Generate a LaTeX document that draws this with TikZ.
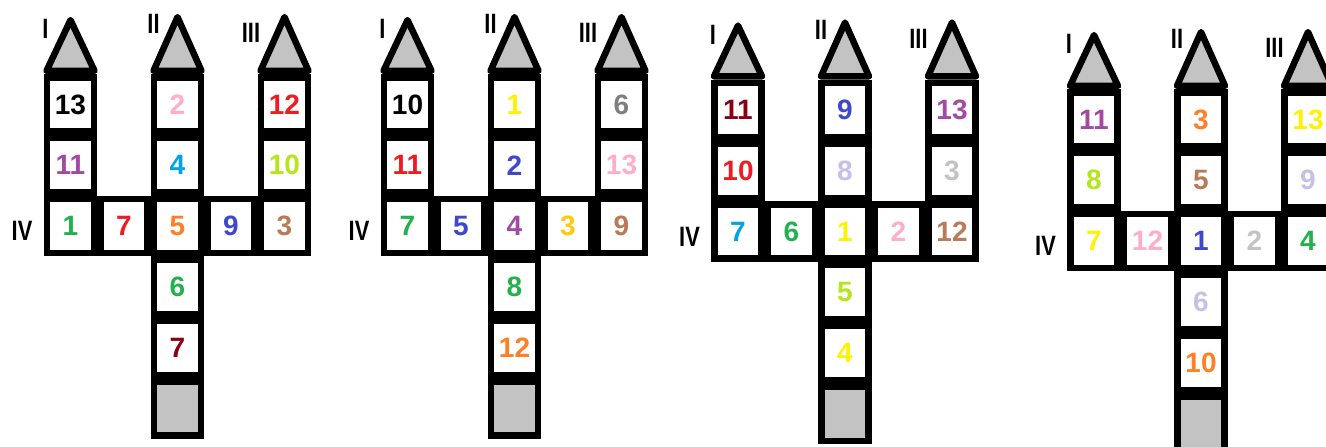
\documentclass[tikz,border=0pt]{standalone}
\usepackage{fontspec}
\setmainfont{Liberation Sans}
\newfontfamily\tagfamily[FakeStretch=0.78]{Liberation Sans}
\usetikzlibrary{positioning}
\definecolor{numBlack}{HTML}{000000}
\definecolor{numDarkRed}{HTML}{880015}
\definecolor{numRed}{HTML}{ED1C24}
\definecolor{numOrange}{HTML}{FF7F27}
\definecolor{numGold}{HTML}{FFC90E}
\definecolor{numYellow}{HTML}{FFF200}
\definecolor{numLime}{HTML}{B5E61D}
\definecolor{numGreen}{HTML}{22B14C}
\definecolor{numTurquoise}{HTML}{00A2E8}
\definecolor{numIndigo}{HTML}{3F48CC}
\definecolor{numPurple}{HTML}{A349A4}
\definecolor{numBrown}{HTML}{B97A57}
\definecolor{numPink}{HTML}{FFAEC9}
\definecolor{numGray}{HTML}{7F7F7F}
\definecolor{numLightGray}{HTML}{C3C3C3}
\definecolor{numLavender}{HTML}{C8BFE7}
\definecolor{fillBlank}{HTML}{C3C3C3}

\begin{document}
\begin{tikzpicture}[
    x=1pt, y=1pt,
    node distance=0pt,
    cell/.style={draw, line width=6.5pt, fill=white, minimum width=47pt, minimum height=54.3pt, inner sep=0pt, font=\fontsize{28}{28}\selectfont\bfseries},
    blank/.style={cell, fill=fillBlank},
    roof/.style={draw=black, fill=fillBlank, line width=6.5pt, line join=round},
    tag/.style={inner sep=0pt, font=\tagfamily\fontsize{28}{28}\selectfont\bfseries}
]

    \useasboundingbox (0,0) rectangle (1326,447);
    \clip (0,0) rectangle (1326,447);

    % ==========================================
    % 1. FIRST TRIDENT
    % ==========================================

    % --- Row IV ---
    \node[cell, text=numOrange] (aIV3) at (177.5, 220.9) {5};
    \node[cell, text=numRed, left=of aIV3] (aIV2) {7};
    \node[cell, text=numGreen, left=of aIV2] (aIV1) {1};
    \node[cell, text=numIndigo, right=of aIV3] (aIV4) {9};
    \node[cell, text=numBrown, right=of aIV4] (aIV5) {3};

    % --- Columns I, II, III ---
    \node[cell, text=numPurple, above=of aIV1] (aI2) {11};
    \node[cell, text=numBlack, above=of aI2] (aI1) {13};
    \node[cell, text=numTurquoise, above=of aIV3] (aII2) {4};
    \node[cell, text=numPink, above=of aII2] (aII1) {2};
    \node[cell, text=numLime, above=of aIV5] (aIII2) {10};
    \node[cell, text=numRed, above=of aIII2] (aIII1) {12};

    % --- Stem ---
    \node[cell, text=numGreen, below=of aIV3] (aS1) {6};
    \node[cell, text=numDarkRed, below=of aS1] (aS2) {7};
    \node[blank, below=of aS2] (aS3) {};

    % --- Roofs and tags ---
    \draw[roof] ([xshift=-24pt, yshift=3.25pt]aI1.north) -- ++(48,0) -- ++(-24,50.75) -- cycle;
    \draw[roof] ([xshift=-24pt, yshift=3.25pt]aII1.north) -- ++(48,0) -- ++(-24,53.75) -- cycle;
    \draw[roof] ([xshift=-24pt, yshift=3.25pt]aIII1.north) -- ++(48,0) -- ++(-24,53.75) -- cycle;

    \node[tag] (aTagI) at ([xshift=-25pt, yshift=45pt]aI1.north) {I};
    \node[tag] (aTagII) at ([xshift=-24pt, yshift=50pt]aII1.north) {II};
    \node[tag] (aTagIII) at ([xshift=-33.5pt, yshift=41pt]aIII1.north) {III};
    \node[tag] (aTagIV) at ([xshift=-48.5pt, yshift=-5pt]aIV1.center) {IV};

    % ==========================================
    % 2. SECOND TRIDENT
    % ==========================================

    % --- Row IV ---
    \node[cell, text=numPurple] (bIV3) at (514.5, 220.9) {4};
    \node[cell, text=numIndigo, left=of bIV3] (bIV2) {5};
    \node[cell, text=numGreen, left=of bIV2] (bIV1) {7};
    \node[cell, text=numGold, right=of bIV3] (bIV4) {3};
    \node[cell, text=numBrown, right=of bIV4] (bIV5) {9};

    % --- Columns I, II, III ---
    \node[cell, text=numRed, above=of bIV1] (bI2) {11};
    \node[cell, text=numBlack, above=of bI2] (bI1) {10};
    \node[cell, text=numIndigo, above=of bIV3] (bII2) {2};
    \node[cell, text=numYellow, above=of bII2] (bII1) {1};
    \node[cell, text=numPink, above=of bIV5] (bIII2) {13};
    \node[cell, text=numGray, above=of bIII2] (bIII1) {6};

    % --- Stem ---
    \node[cell, text=numGreen, below=of bIV3] (bS1) {8};
    \node[cell, text=numOrange, below=of bS1] (bS2) {12};
    \node[blank, below=of bS2] (bS3) {};

    % --- Roofs and tags ---
    \draw[roof] ([xshift=-24pt, yshift=3.25pt]bI1.north) -- ++(48,0) -- ++(-24,50.75) -- cycle;
    \draw[roof] ([xshift=-24pt, yshift=3.25pt]bII1.north) -- ++(48,0) -- ++(-24,53.75) -- cycle;
    \draw[roof] ([xshift=-24pt, yshift=3.25pt]bIII1.north) -- ++(48,0) -- ++(-24,53.75) -- cycle;

    \node[tag] (bTagI) at ([xshift=-25pt, yshift=45pt]bI1.north) {I};
    \node[tag] (bTagII) at ([xshift=-24pt, yshift=50pt]bII1.north) {II};
    \node[tag] (bTagIII) at ([xshift=-33.5pt, yshift=41pt]bIII1.north) {III};
    \node[tag] (bTagIV) at ([xshift=-48.5pt, yshift=-5pt]bIV1.center) {IV};

    % ==========================================
    % 3. THIRD TRIDENT
    % ==========================================

    % --- Row IV ---
    \node[cell, text=numYellow] (cIV3) at (845, 215.4) {1};
    \node[cell, text=numGreen, left=of cIV3] (cIV2) {6};
    \node[cell, text=numTurquoise, left=of cIV2] (cIV1) {7};
    \node[cell, text=numPink, right=of cIV3] (cIV4) {2};
    \node[cell, text=numBrown, right=of cIV4] (cIV5) {12};

    % --- Columns I, II, III ---
    \node[cell, text=numRed, above=of cIV1] (cI2) {10};
    \node[cell, text=numDarkRed, above=of cI2] (cI1) {11};
    \node[cell, text=numLavender, above=of cIV3] (cII2) {8};
    \node[cell, text=numIndigo, above=of cII2] (cII1) {9};
    \node[cell, text=numLightGray, above=of cIV5] (cIII2) {3};
    \node[cell, text=numPurple, above=of cIII2] (cIII1) {13};

    % --- Stem ---
    \node[cell, text=numLime, below=of cIV3] (cS1) {5};
    \node[cell, text=numYellow, below=of cS1] (cS2) {4};
    \node[blank, below=of cS2] (cS3) {};

    % --- Roofs and tags ---
    \draw[roof] ([xshift=-24pt, yshift=3.25pt]cI1.north) -- ++(48,0) -- ++(-24,50.75) -- cycle;
    \draw[roof] ([xshift=-24pt, yshift=3.25pt]cII1.north) -- ++(48,0) -- ++(-24,53.75) -- cycle;
    \draw[roof] ([xshift=-24pt, yshift=3.25pt]cIII1.north) -- ++(48,0) -- ++(-24,53.75) -- cycle;

    \node[tag] (cTagI) at ([xshift=-25pt, yshift=45pt]cI1.north) {I};
    \node[tag] (cTagII) at ([xshift=-24pt, yshift=50pt]cII1.north) {II};
    \node[tag] (cTagIII) at ([xshift=-33.5pt, yshift=41pt]cIII1.north) {III};
    \node[tag] (cTagIV) at ([xshift=-48.5pt, yshift=-5pt]cIV1.center) {IV};

    % ==========================================
    % 4. FOURTH TRIDENT (cut by the right edge)
    % ==========================================

    % --- Row IV ---
    \node[cell, text=numIndigo] (dIV3) at (1201, 205.9) {1};
    \node[cell, text=numPink, left=of dIV3] (dIV2) {12};
    \node[cell, text=numYellow, left=of dIV2] (dIV1) {7};
    \node[cell, text=numLightGray, right=of dIV3] (dIV4) {2};
    \node[cell, text=numGreen, right=of dIV4] (dIV5) {4};

    % --- Columns I, II, III ---
    \node[cell, text=numLime, above=of dIV1] (dI2) {8};
    \node[cell, text=numPurple, above=of dI2] (dI1) {11};
    \node[cell, text=numBrown, above=of dIV3] (dII2) {5};
    \node[cell, text=numOrange, above=of dII2] (dII1) {3};
    \node[cell, text=numLavender, above=of dIV5] (dIII2) {9};
    \node[cell, text=numYellow, above=of dIII2] (dIII1) {13};

    % --- Stem ---
    \node[cell, text=numLavender, below=of dIV3] (dS1) {6};
    \node[cell, text=numOrange, below=of dS1] (dS2) {10};
    \node[blank, below=of dS2] (dS3) {};

    % --- Roofs and tags ---
    \draw[roof] ([xshift=-24pt, yshift=3.25pt]dI1.north) -- ++(48,0) -- ++(-24,50.75) -- cycle;
    \draw[roof] ([xshift=-24pt, yshift=3.25pt]dII1.north) -- ++(48,0) -- ++(-24,53.75) -- cycle;
    \draw[roof] ([xshift=-24pt, yshift=3.25pt]dIII1.north) -- ++(48,0) -- ++(-24,53.75) -- cycle;

    \node[tag] (dTagI) at ([xshift=-25pt, yshift=45pt]dI1.north) {I};
    \node[tag] (dTagII) at ([xshift=-24pt, yshift=50pt]dII1.north) {II};
    \node[tag] (dTagIII) at ([xshift=-33.5pt, yshift=41pt]dIII1.north) {III};
    \node[tag] (dTagIV) at ([xshift=-48.5pt, yshift=-5pt]dIV1.center) {IV};

\end{tikzpicture}
\end{document}
